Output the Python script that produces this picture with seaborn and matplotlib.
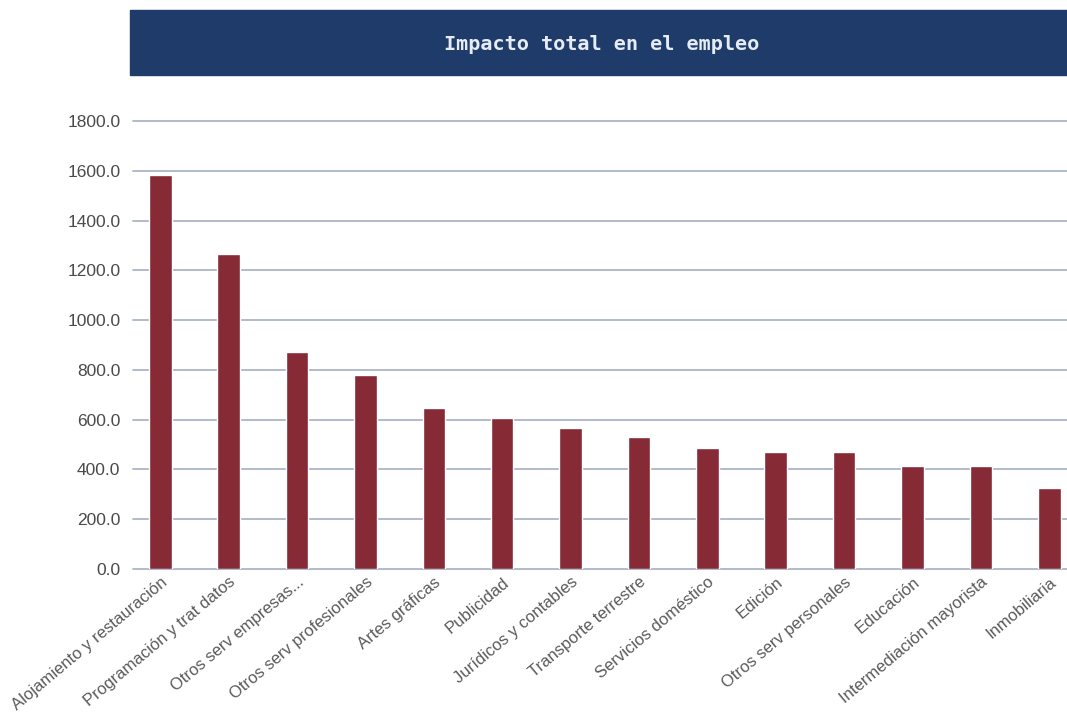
import matplotlib
matplotlib.use("Agg")
import matplotlib.pyplot as plt
import seaborn as sns
import pandas as pd
from matplotlib.patches import Rectangle

# ===== data =====
sectores = [
    "Alojamiento y restauración", "Programación y trat datos", "Otros serv empresas...",
    "Otros serv profesionales", "Artes gráficas", "Publicidad", "Jurídicos y contables",
    "Transporte terrestre", "Servicios doméstico", "Edición", "Otros serv personales",
    "Educación", "Intermediación mayorista", "Inmobiliaria",
]
empleo = [1582, 1264, 873, 780, 648, 608, 568, 532, 488, 472, 472, 412, 412, 326]
y_ticks = [0, 200, 400, 600, 800, 1000, 1200, 1400, 1600, 1800]
titulo = "Impacto total en el empleo"

sns.set_style("white")
plt.rcParams["font.family"] = ["Liberation Sans", "DejaVu Sans"]

df = pd.DataFrame({"sector": sectores, "empleo": empleo})

fig = plt.figure(figsize=(10.67, 7.2), dpi=100)
ax = fig.add_axes([0.1246, 0.2097, 0.8754, 0.6222])

sns.barplot(data=df, x="sector", y="empleo", color="#862a36", saturation=1,
            width=0.33, ax=ax)

ax.set_ylim(0, 1800)
ax.set_xlim(-0.4, 13.26)
ax.set_yticks(y_ticks)
ax.set_yticklabels([f"{v:.1f}" for v in y_ticks], fontsize=12.5, color="#4a4a4a")
ax.grid(axis="y", color="#aab5c7", linewidth=1.3)
ax.set_axisbelow(True)
for gl in ax.get_ygridlines():
    gl.set_clip_on(False)
for s in ax.spines.values():
    s.set_visible(False)
ax.tick_params(axis="both", length=0)
ax.tick_params(axis="y", pad=9)
ax.tick_params(axis="x", pad=4)
ax.set_xlabel("")
ax.set_ylabel("")
plt.setp(ax.get_xticklabels(), rotation=40, ha="right", rotation_mode="anchor",
         fontsize=12, color="#5a5a5a")

# banner title
fig.patches.append(Rectangle((130 / 1067, 1 - 75 / 720), 937 / 1067, 65 / 720,
                             transform=fig.transFigure, color="#1e3b69", zorder=0))
fig.text(602 / 1067, 1 - 45 / 720, titulo, ha="center", va="center",
         fontsize=14.5, fontweight="bold", color="#e6ecf5",
         family=["DejaVu Sans Mono"])

fig.savefig("out.png", dpi=100)
